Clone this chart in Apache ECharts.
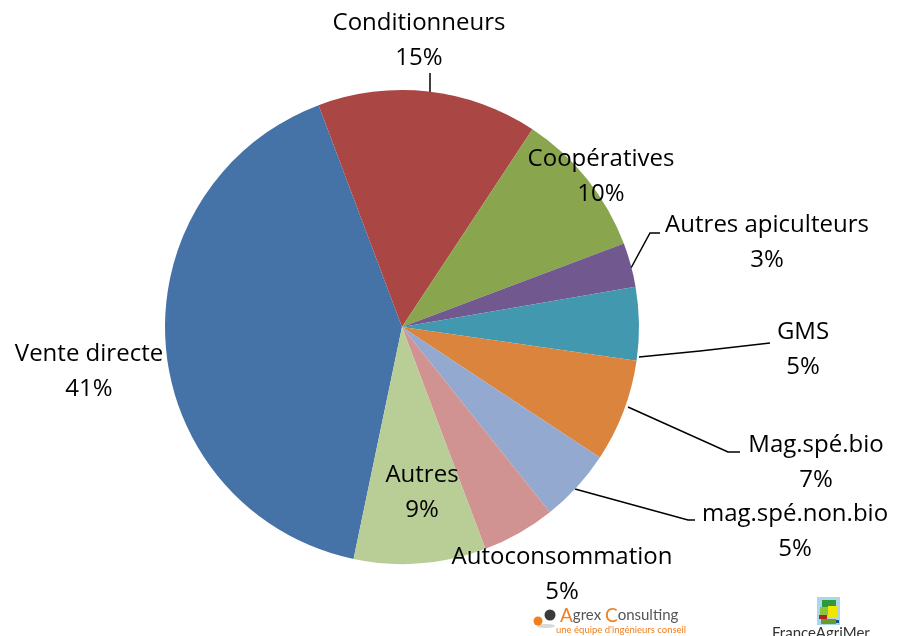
<!DOCTYPE html>
<html>
<head>
<meta charset="utf-8">
<script src="https://cdn.jsdelivr.net/npm/echarts@6/dist/echarts.min.js"></script>
<style>
  html, body { margin: 0; padding: 0; background: #fff; }
  #main { width: 899px; height: 636px; }
</style>
</head>
<body>
<div id="main"></div>
<script>
// data (percent of volume by sales channel)
const categories = ["Vente directe", "Conditionneurs", "Coopératives", "Autres apiculteurs", "GMS",
  "Mag.spé.bio", "mag.spé.non.bio", "Autoconsommation", "Autres"];
const shares = [41, 15, 10, 3, 5, 7, 5, 5, 9];
const colors = ["#4572A7", "#AA4643", "#89A54E", "#71588F", "#4198AF",
  "#DB843D", "#93A9CF", "#D19392", "#B9CD96"];

// where each label block sits (centre) and its leader line, like in the excel export
const labelPos = [[89, 372], [419, 41], [601, 177], [767, 243], [803, 350],
  [816, 463], [795, 532], [562, 575], [422, 493]];
const leaders = [null, [[430, 92], [430, 82], [430, 73]], null,
  [[631, 268], [650, 233], [660, 233]], [[639, 357], [700, 351], [770, 343]],
  [[628, 407], [728, 452], [740, 452]], [[575, 489], [688, 520], [695, 520]], null, null];

const font = "'Open Sans', sans-serif";
const logoFont = "Lato, sans-serif";

let myChart = echarts.init(document.getElementById("main"), null, { renderer: "canvas" });

let pieData = categories.map((name, i) => ({
  name: name,
  value: shares[i],
  itemStyle: { color: colors[i] },
  labelLine: { show: !!leaders[i] }
}));

myChart.setOption({
  animation: false,
  series: [
    {
      type: "pie",
      center: [402, 327],
      radius: [0, 237],
      startAngle: 258.2,
      clockwise: true,
      avoidLabelOverlap: false,
      data: pieData,
      itemStyle: { borderWidth: 0 },
      label: {
        show: true,
        position: "outside",
        formatter: p => p.name + "\n" + p.value + "%",
        color: "#000",
        fontFamily: font,
        fontSize: 24,
        lineHeight: 35,
        align: "center"
      },
      labelLine: {
        show: true,
        lineStyle: { color: "#000", width: 1.5 }
      },
      labelLayout: function (params) {
        let i = params.dataIndex;
        let res = {
          x: labelPos[i][0],
          y: labelPos[i][1],
          align: "center",
          verticalAlign: "middle"
        };
        if (leaders[i]) res.labelLinePoints = leaders[i];
        return res;
      }
    }
  ],
  graphic: [
    // Agrex Consulting logo
    { type: "ellipse", shape: { cx: 546, cy: 626, rx: 9, ry: 2 }, style: { fill: "#d8d8d8" } },
    { type: "circle", shape: { cx: 550, cy: 615, r: 5.5 }, style: { fill: "#3a3a3a" } },
    { type: "circle", shape: { cx: 538, cy: 621, r: 4.5 }, style: { fill: "#F07F1E" } },
    {
      type: "text", left: 560, top: 606,
      style: {
        text: "{o|A}{g|grex }{o|C}{g|onsulting}",
        rich: {
          o: { fill: "#F07F1E", fontSize: 19, fontFamily: logoFont },
          g: { fill: "#555", fontSize: 15, fontFamily: logoFont }
        }
      }
    },
    {
      type: "text", left: 556, top: 625,
      style: { text: "une équipe d'ingénieurs conseil", fill: "#F07F1E", fontSize: 9.5, fontFamily: logoFont }
    },
    // FranceAgriMer logo
    { type: "rect", shape: { x: 817, y: 597, width: 23, height: 28 }, style: { fill: "#a9d8ee" } },
    { type: "rect", shape: { x: 822, y: 600, width: 14, height: 8 }, style: { fill: "#2e9a3c" } },
    { type: "rect", shape: { x: 828, y: 606, width: 10, height: 12 }, style: { fill: "#f2e500" } },
    { type: "rect", shape: { x: 820, y: 607, width: 8, height: 8 }, style: { fill: "#8bc53f" } },
    { type: "rect", shape: { x: 819, y: 615, width: 8, height: 4 }, style: { fill: "#b22222" } },
    { type: "rect", shape: { x: 821, y: 619, width: 15, height: 5 }, style: { fill: "#6a9a2a" } },
    { type: "rect", shape: { x: 836, y: 620, width: 3, height: 3 }, style: { fill: "#1a4f8a" } },
    {
      type: "text", left: 772, top: 626,
      style: { text: "FranceAgriMer", fill: "#333", fontSize: 15, fontFamily: logoFont }
    }
  ]
});
</script>
</body>
</html>
